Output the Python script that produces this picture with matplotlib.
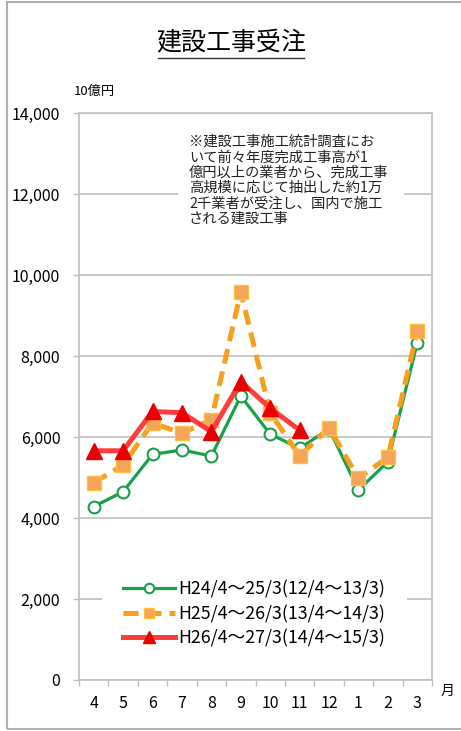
import numpy as np
import matplotlib
matplotlib.use("Agg")
import matplotlib.pyplot as plt
from matplotlib.lines import Line2D
from matplotlib.patches import Rectangle

plt.rcParams['font.family'] = ['Noto Sans CJK JP', 'DejaVu Sans']

# data (10億円)
months = ["4", "5", "6", "7", "8", "9", "10", "11", "12", "1", "2", "3"]
h24 = [4280, 4650, 5570, 5680, 5530, 7010, 6070, 5720, 6200, 4690, 5390, 8330]
h25 = [4870, 5310, 6350, 6090, 6430, 9580, 6600, 5530, 6230, 4980, 5500, 8620]
h26 = [5660, 5660, 6630, 6600, 6130, 7370, 6710, 6170]
labels = ["H24/4～25/3(12/4～13/3)",
          "H25/4～26/3(13/4～14/3)",
          "H26/4～27/3(14/4～15/3)"]
yticks = [0, 2000, 4000, 6000, 8000, 10000, 12000, 14000]
note = ["※建設工事施工統計調査にお",
        "いて前々年度完成工事高が1",
        "億円以上の業者から、完成工事",
        "高規模に応じて抽出した約1万",
        "2千業者が受注し、国内で施工",
        "される建設工事"]

W, H = 461, 731
fig = plt.figure(figsize=(W / 100, H / 100), dpi=100)
grid_c = '#bfbfbf'

# outer frame
fig.patches.append(Rectangle((7 / W, 1 - 729 / H), 1.2, (729 - 2) / H,
                             transform=fig.transFigure, fill=False,
                             edgecolor='#b0b0b0', lw=1.5))

ax = fig.add_axes([79 / W, 1 - 680 / H, (432 - 79) / W, (680 - 113) / H])
x = np.arange(len(months))

ax.plot(x, h24, color='#1aa04a', lw=2.3, marker='o', ms=8.5,
        mfc='white', mec='#1aa04a', mew=1.5, label=labels[0], zorder=3)
ax.plot(x, h25, color='#f7a01e', lw=3.6, dashes=(3.0, 1.6), marker='s', ms=9.5,
        mfc='#f5a45a', mec='#ffc040', mew=1, label=labels[1], zorder=4)
ax.plot(x[:len(h26)], h26, color='#ff3d3d', lw=3.6, marker='^', ms=11,
        mfc='#e80000', mec='#e80000', label=labels[2], zorder=5)

ax.set_xlim(-0.5, len(months) - 0.5)
ax.set_ylim(0, 14000)
ax.set_yticks(yticks)
ax.set_yticklabels([f"{v:,}" for v in yticks])
ax.set_xticks(x)
ax.set_xticklabels(months)
ax.set_xticks(np.arange(-0.5, len(months)), minor=True)
ax.tick_params(axis='x', which='major', length=0, pad=11, labelsize=11.5)
ax.tick_params(axis='x', which='minor', length=4, color=grid_c, width=1)
ax.tick_params(axis='y', length=4.5, color=grid_c, width=1, pad=9, labelsize=11.5)
ax.yaxis.grid(True, color=grid_c, lw=1.2)
ax.set_axisbelow(True)
for s in ax.spines.values():
    s.set_color(grid_c)
    s.set_linewidth(1.2)

leg = ax.legend(loc='center left', bbox_to_anchor=(102 / W, 1 - 614 / H),
                bbox_transform=fig.transFigure, fontsize=12.8, handlelength=2.9,
                handletextpad=0.2, labelspacing=0.35, borderpad=1.2,
                borderaxespad=0, frameon=True, fancybox=False, markerscale=0.8,
                edgecolor='none', facecolor='white', framealpha=1)

fig.text(448 / W, 1 - 691 / H, "月", fontsize=10, ha='center', va='center')
fig.text(74 / W, 1 - 91 / H, "10億円", fontsize=9.5, ha='left', va='center')

title = fig.text(231 / W, 1 - 43 / H, "建設工事受注", fontsize=18,
                 ha='center', va='center')

renderer = fig.canvas.get_renderer()


def text_width(s, fs):
    t = fig.text(0, 0, s, fontsize=fs)
    w = t.get_window_extent(renderer).width
    t.remove()
    return w


def hline(x0, x1, y, lw=1.0):
    fig.add_artist(Line2D([x0 / W, x1 / W], [1 - y / H, 1 - y / H],
                          transform=fig.transFigure, color='#333333', lw=lw))


# title underline
tb = title.get_window_extent(renderer)
hline(tb.x0 + 2, tb.x1 - 2, 58, lw=1.0)

# note box (white background over gridlines)
fig.patches.append(Rectangle((178 / W, 1 - 228 / H), (404 - 178) / W, 100 / H,
                             transform=fig.transFigure, facecolor='white',
                             edgecolor='none', zorder=2))
nx, ny0, nstep, nfs = 189, 142, 15.4, 10.3
for i, line in enumerate(note):
    fig.text(nx / W, 1 - (ny0 + i * nstep) / H, line, fontsize=nfs,
             ha='left', va='center', color='#222222', zorder=3)

# underlined parts of the note
for li, a, b in [(3, 11, 14), (4, 0, 4), (4, 9, 11)]:
    line = note[li]
    xa = nx + text_width(line[:a], nfs) if a else nx
    xb = nx + text_width(line[:b], nfs)
    hline(xa, xb, ny0 + li * nstep + 7.5, lw=0.8)

fig.savefig("out.png", dpi=100)
